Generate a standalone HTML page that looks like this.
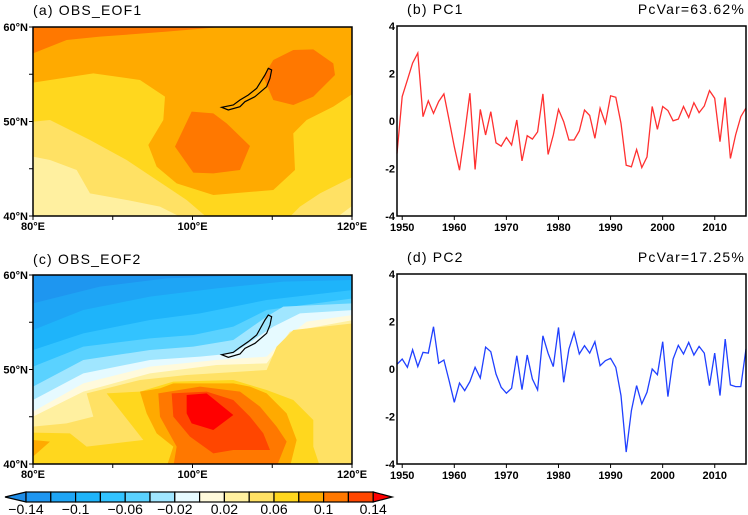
<!DOCTYPE html>
<html><head><meta charset="utf-8"><style>
body{margin:0;background:#fff;width:748px;height:515px;overflow:hidden}
svg{display:block}
.t{font-family:"Liberation Sans",sans-serif;font-size:14px;letter-spacing:1.2px;fill:#000}
.k{font-family:"Liberation Sans",sans-serif;font-size:11px;font-weight:bold;fill:#000}
.c{font-family:"Liberation Sans",sans-serif;font-size:14px;fill:#000}
</style></head><body>
<svg id="fig" width="748" height="515" viewBox="0 0 748 515">
<defs>
<clipPath id="cp1"><rect x="33" y="27" width="319" height="189"/></clipPath>
<clipPath id="cp2"><rect x="33" y="275" width="319" height="189"/></clipPath>
</defs>
<g>
<text class="t" x="33" y="15">(a) OBS_EOF1</text>
<g clip-path="url(#cp1)">
<g transform="translate(0,20) scale(0.3333)">
<rect x="99" y="22" width="960" height="570" fill="#FFAA00"/>
<path d="M99,22 L650,22 L500,35 L300,50 L200,60 L99,100Z" fill="#FF7800"/>
<path d="M99,188 L280,160 L420,180 L495,230 L490,300 L445,375 L470,440 L530,490 L640,525 L820,510 L885,450 L880,340 L920,300 L1000,260 L1060,220 L1060,600 L99,600Z" fill="#FFD71E"/>
<path d="M99,305 L150,300 L270,360 L380,420 L470,480 L560,540 L630,600 L99,600Z" fill="#FFE164"/>
<path d="M1060,470 L960,520 L900,560 L860,600 L1060,600Z" fill="#FFE164"/>
<path d="M99,410 L150,420 L230,450 L270,520 L380,540 L480,560 L560,600 L99,600Z" fill="#FFF0A0"/>
<path d="M1000,600 L1060,555 L1060,600Z" fill="#FFF0A0"/>
<path d="M525,380 L575,275 L640,280 L680,310 L750,378 L720,450 L640,460 L580,458Z" fill="#FF7800"/>
<path d="M790,170 L820,120 L880,90 L940,88 L1000,130 L1005,165 L940,230 L880,255 L820,240Z" fill="#FF7800"/>
<path d="M665,262 L700,255 L720,240 L745,225 L770,205 L795,165 L805,145 L815,150 L810,175 L800,200 L765,230 L735,245 L720,260 L685,270Z" fill="none" stroke="#000" stroke-width="1.2" vector-effect="non-scaling-stroke"/>
</g></g>
<rect x="33" y="27" width="319" height="189" fill="none" stroke="#000" stroke-width="1.5"/>
</g>
<g>
<text class="t" x="33" y="264">(c) OBS_EOF2</text>
<g clip-path="url(#cp2)">
<g transform="translate(0,260) scale(0.3333)">
<rect x="99" y="44" width="960" height="570" fill="#1E96F0"/>
<path d="M99,130 L300,80 L500,55 L700,48 L1060,44 L1060,620 L99,620Z" fill="#1EA5F5"/>
<path d="M99,210 L250,150 L450,110 L650,85 L850,65 L1060,60 L1060,620 L99,620Z" fill="#1EB4FA"/>
<path d="M99,270 L250,220 L450,180 L600,160 L800,120 L1060,90 L1060,620 L99,620Z" fill="#32C3FF"/>
<path d="M99,320 L250,260 L450,235 L580,225 L700,200 L800,150 L1060,115 L1060,620 L99,620Z" fill="#5AD2FF"/>
<path d="M99,380 L250,300 L450,270 L580,260 L700,240 L800,170 L850,140 L1060,130 L1060,620 L99,620Z" fill="#A0E6FF"/>
<path d="M99,420 L250,340 L450,300 L600,290 L700,280 L820,200 L900,160 L1060,150 L1060,620 L99,620Z" fill="#E6FAFF"/>
<path d="M99,455 L250,370 L450,320 L650,300 L800,290 L850,240 L920,185 L1060,165 L1060,620 L99,620Z" fill="#FFFADC"/>
<path d="M99,470 L250,395 L450,340 L650,315 L800,310 L830,270 L870,215 L1060,180 L1060,620 L99,620Z" fill="#FFF0A0"/>
<path d="M99,500 L200,490 L280,470 L260,400 L420,360 L560,345 L800,330 L830,260 L880,210 L1060,190 L1060,620 L99,620Z" fill="#FFE164"/>
<path d="M99,518 L210,520 L260,560 L430,540 L320,400 L420,395 L520,365 L700,360 L800,390 L880,420 L940,480 L940,560 L960,620 L99,620Z" fill="#FFD71E"/>
<path d="M99,540 L150,545 L99,590Z" fill="#FFAA00"/>
<path d="M420,395 L480,385 L520,370 L700,370 L750,380 L800,400 L860,460 L890,540 L870,620 L500,620 L520,560 L470,520 L440,460Z" fill="#FFAA00"/>
<path d="M475,400 L600,380 L720,395 L780,440 L830,500 L860,545 L830,620 L520,620 L530,560 L480,470Z" fill="#FF7800"/>
<path d="M515,400 L620,395 L700,420 L750,470 L790,520 L810,570 L700,570 L640,580 L570,530 L520,470Z" fill="#FF4600"/>
<path d="M560,405 L620,400 L700,465 L640,510 L575,490 L560,460Z" fill="#FF0000"/>
<path d="M665,284 L700,277 L720,262 L745,245 L770,225 L795,180 L805,165 L815,170 L810,195 L800,220 L765,250 L735,265 L720,282 L685,292Z" fill="none" stroke="#000" stroke-width="1.2" vector-effect="non-scaling-stroke"/>
</g></g>
<rect x="33" y="275" width="319" height="189" fill="none" stroke="#000" stroke-width="1.5"/>
</g>
<g id="mapaxes"></g>
<g id="cbar"></g>
<g id="pc1"></g>
<g id="pc2"></g>
</svg>
<script>
const years = [];
for (let y = 1949; y <= 2016; y++) years.push(y);
const pc1Values = [-1.37,1.03,1.73,2.44,2.86,0.18,0.85,0.32,0.82,1.14,0.04,-1.08,-2.07,-0.52,1.17,-2.04,0.49,-0.59,0.39,-0.92,-1.06,-0.69,-1.01,0.04,-1.68,-0.62,-0.76,-0.46,1.14,-1.41,-0.59,0.49,-0.03,-0.8,-0.8,-0.42,0.46,0.23,-0.73,0.54,-0.1,1.06,1.0,-0.1,-1.86,-1.93,-1.2,-1.96,-1.51,0.61,-0.35,0.61,0.44,0.01,0.08,0.61,0.15,0.77,0.35,0.63,1.28,0.96,-0.87,0.99,-1.58,-0.59,0.18,0.55];
const pc2Values = [0.2,0.42,0.07,0.81,0.1,0.7,0.67,1.78,0.24,0.38,-0.49,-1.4,-0.59,-0.91,-0.53,0.07,-0.38,0.92,0.73,-0.21,-0.77,-1.02,-0.81,0.56,-0.87,0.59,-0.42,-0.88,1.4,0.66,0.1,1.75,-0.56,0.84,1.54,0.63,0.98,0.67,1.15,0.14,0.35,0.45,0.07,-1.12,-3.5,-1.75,-0.7,-1.47,-0.98,0,-0.24,1.15,-1.16,0.42,1.0,0.63,1.12,0.59,0.95,0.67,-0.7,0.67,-1.12,1.26,-0.67,-0.74,-0.74,0.85];
const yTicks = [4,2,0,-2,-4];
const yTickLabels = ["4","2","0","-2","-4"];
const xTicks = [1950,1960,1970,1980,1990,2000,2010];
const cbarLevels = ["-0.14","-0.12","-0.1","-0.08","-0.06","-0.04","-0.02","0","0.02","0.04","0.06","0.08","0.1","0.12","0.14"];
const cbarLabels = ["-0.14","-0.1","-0.06","-0.02","0.02","0.06","0.1","0.14"];
const cbarColors = ["#1E96F0","#1EA5F5","#1EB4FA","#32C3FF","#5AD2FF","#A0E6FF","#E6FAFF","#FFFADC","#FFF0A0","#FFE164","#FFD71E","#FFAA00","#FF7800","#FF4600"];

const NS = "http://www.w3.org/2000/svg";
function mk(tag, attrs, parent) {
  const e = document.createElementNS(NS, tag);
  for (const k in attrs) e.setAttribute(k, attrs[k]);
  parent.appendChild(e);
  return e;
}

const ma = document.getElementById('mapaxes');
[[27,216],[275,464]].forEach(([top, bot]) => {
  [80,90,100,110,120].forEach(lon => {
    const x = 33 + (lon - 80) / 40 * 319;
    mk('line', {x1:x, y1:bot, x2:x, y2:bot+4, stroke:'#000', 'stroke-width':1}, ma);
    if (lon % 20 === 0) {
      const t = mk('text', {x:x, y:bot+14, 'text-anchor':'middle', class:'k'}, ma);
      t.textContent = lon + '°E';
      
      
    }
  });
  [40,45,50,55,60].forEach(lat => {
    const y = bot - (lat - 40) / 20 * (bot - top);
    mk('line', {x1:29, y1:y, x2:33, y2:y, stroke:'#000', 'stroke-width':1}, ma);
    if (lat % 10 === 0) {
      const t = mk('text', {x:28, y:y+4, 'text-anchor':'end', class:'k'}, ma);
      t.textContent = lat + '°N';
      
      
    }
  });
});

const cb = document.getElementById('cbar');
const cx0 = 26, cw = 24.8, cy = 492, ch = 10;
mk('path', {d:`M${cx0},${cy} L5,${cy+ch/2} L${cx0},${cy+ch}Z`, fill:'#1E8CE6', stroke:'#000', 'stroke-width':1.2}, cb);
cbarColors.forEach((c, i) => {
  const r = mk('rect', {x:cx0 + i*cw, y:cy, width:cw, height:ch, fill:c, stroke:'#000', 'stroke-width':1.2}, cb);
  
  
});
const cEnd = cx0 + cbarColors.length * cw;
mk('path', {d:`M${cEnd},${cy} L${cEnd+19},${cy+ch/2} L${cEnd},${cy+ch}Z`, fill:'#FF0000', stroke:'#000', 'stroke-width':1.2}, cb);
cbarLabels.forEach(l => {
  const i = cbarLevels.indexOf(l);
  const t = mk('text', {x:cx0 + i*cw, y:514, 'text-anchor':'middle', class:'c'}, cb);
  t.textContent = l.replace('-', '\u2212');
  
  
});

function chart(gid, top, bot, values, color, lbl, pct) {
  const g = document.getElementById(gid);
  const L = 397, R = 746;
  const xs = yr => L + (yr - 1949) / (2016 - 1949) * (R - L);
  const ys = v => top + (4 - v) / 8 * (bot - top);
  const tt = mk('text', {x:L+10, y:top-12, class:'t'}, g);
  tt.textContent = lbl;
  
  
  const tp = mk('text', {x:745, y:top-12, 'text-anchor':'end', class:'t'}, g);
  tp.textContent = pct;
  
  
  const pts = values.map((v, i) => xs(years[i]).toFixed(1) + ',' + ys(v).toFixed(1)).join(' ');
  const pl = mk('polyline', {points:pts, fill:'none', stroke:color, 'stroke-width':1.3}, g);
  
  
  mk('rect', {x:L, y:top, width:R-L, height:bot-top, fill:'none', stroke:'#000', 'stroke-width':1.5}, g);
  yTicks.forEach((v, i) => {
    const t = mk('text', {x:L-2, y:ys(v)+4, 'text-anchor':'end', class:'k'}, g);
    t.textContent = yTickLabels[i];
    
    
  });
  xTicks.forEach(yr => {
    const x = xs(yr);
    mk('line', {x1:x, y1:bot, x2:x, y2:bot+4, stroke:'#000', 'stroke-width':1}, g);
    const t = mk('text', {x:x, y:bot+15, 'text-anchor':'middle', class:'k'}, g);
    t.textContent = yr;
    
    
  });
}
chart('pc1', 26, 216, pc1Values, '#FF3030', '(b) PC1', 'PcVar=63.62%');
chart('pc2', 274, 464, pc2Values, '#2040FF', '(d) PC2', 'PcVar=17.25%');
</script>
</body></html>
